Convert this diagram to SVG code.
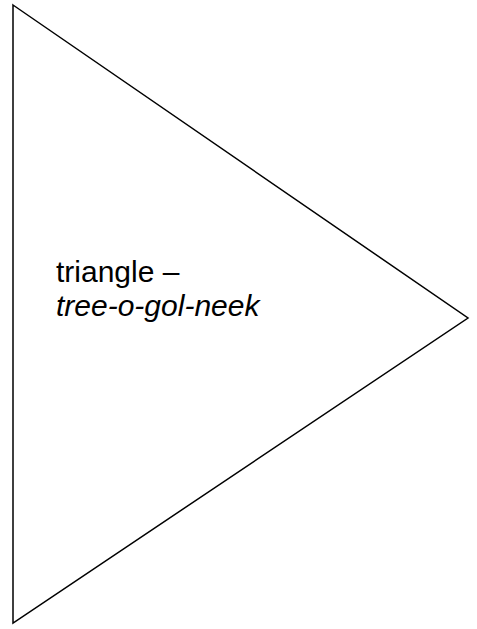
<svg xmlns="http://www.w3.org/2000/svg" width="477" height="629" viewBox="0 0 477 629">
<style>
.shape{fill:#fff;stroke:#000;stroke-width:1.5}
.t{font-family:"Liberation Sans",Arial,sans-serif;font-size:30px;fill:#000}
</style>
<rect width="477" height="629" fill="#fff"/>
<g id="triangle">
<polygon class="shape" points="13,5 468,318 13,623"/>
<text class="t" x="56" y="282">triangle –</text>
<text class="t" x="56" y="316" font-style="italic">tree-o-gol-neek</text>
</g>
<g id="connectors"/>
</svg>
